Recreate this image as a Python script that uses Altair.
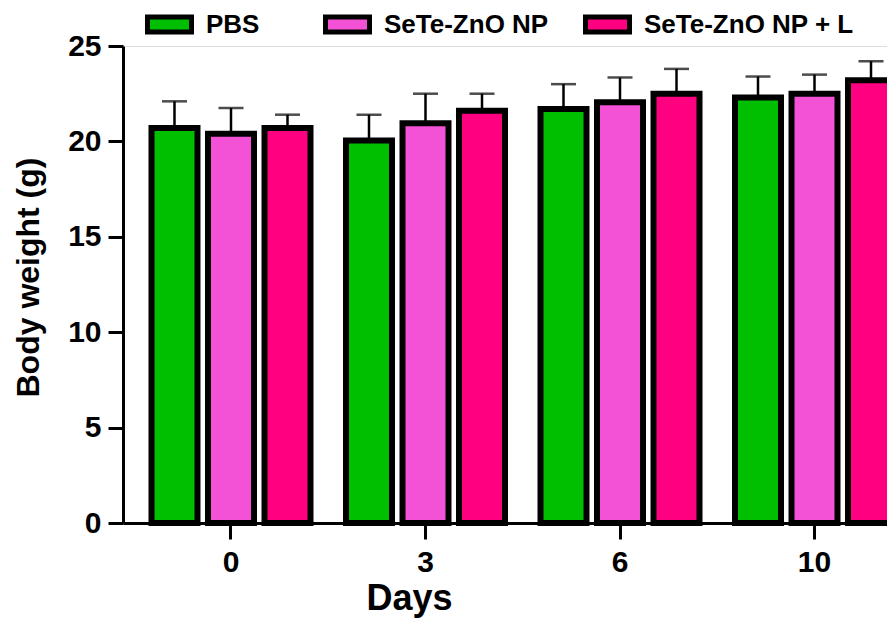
import altair as alt
import pandas as pd

days = ["0", "3", "6", "10"]
groups = ["PBS", "SeTe-ZnO NP", "SeTe-ZnO NP + L"]
colors = ["#00BF00", "#F452D6", "#FF0080"]

pbs_mean = [20.7, 20.05, 21.7, 22.3]
pbs_err = [1.4, 1.35, 1.3, 1.1]
np_mean = [20.4, 20.95, 22.05, 22.5]
np_err = [1.35, 1.55, 1.3, 1.0]
npl_mean = [20.7, 21.6, 22.5, 23.2]
npl_err = [0.7, 0.9, 1.3, 1.0]

rows = []
for g, means, errs in zip(groups, [pbs_mean, np_mean, npl_mean], [pbs_err, np_err, npl_err]):
    for d, m, e in zip(days, means, errs):
        rows.append({"day": d, "group": g, "mean": m, "top": m + e})
df = pd.DataFrame(rows)

FONT = "Liberation Sans"
PAD = "\u00a0" * 4 + "\u200b"

x_enc = alt.X(
    "day:N",
    sort=days,
    scale=alt.Scale(range=[0, 799.5], paddingInner=0.1825, paddingOuter=0.1465),
    axis=alt.Axis(
        title="Days",
        labelAngle=0,
        labelAlign="center",
        labelFont=FONT,
        labelFontWeight="bold",
        labelFontSize=30,
        labelColor="black",
        labelPadding=23,
        titleFont=FONT,
        titleFontWeight="bold",
        titleFontSize=36,
        titleColor="black",
        titlePadding=4,
        titleX=286,
        domainColor="black",
        domainWidth=3,
        tickColor="black",
        tickWidth=3,
        tickSize=16,
    ),
)
xo_enc = alt.XOffset(
    "group:N",
    sort=groups,
    scale=alt.Scale(paddingInner=0.186, paddingOuter=0),
)
y_axis = alt.Axis(
    title="Body weight (g)",
    values=[0, 5, 10, 15, 20, 25],
    grid=False,
    labelFont=FONT,
    labelFontWeight="bold",
    labelFontSize=30,
    labelColor="black",
    labelPadding=7,
    titleFont=FONT,
    titleFontWeight="bold",
    titleFontSize=32,
    titleColor="black",
    titlePadding=22,
    titleY=231,
    domainColor="black",
    domainWidth=3,
    tickColor="black",
    tickWidth=3,
    tickSize=15,
)

bars = alt.Chart(df).mark_bar(stroke="black", strokeWidth=6).encode(
    x=x_enc,
    xOffset=xo_enc,
    y=alt.Y("mean:Q", scale=alt.Scale(domain=[0, 25], nice=False), axis=y_axis),
    fill=alt.Fill(
        "group:N",
        sort=groups,
        scale=alt.Scale(domain=groups, range=colors),
        legend=alt.Legend(
            title=None,
            orient="none",
            legendX=22,
            legendY=-46,
            direction="horizontal",
            symbolType="M-1,-0.34H1V0.34H-1Z",
            symbolSize=1936,
            symbolStrokeColor="black",
            symbolStrokeWidth=5,
            symbolOpacity=1,
            labelFont=FONT,
            labelFontWeight="bold",
            labelFontSize=26,
            labelColor="black",
            labelOffset=12,
            labelLimit=500,
            columnPadding=26,
            labelExpr="datum.label == 'PBS' ? 'PBS" + PAD + "' : datum.label",
        ),
    ),
)

rules = alt.Chart(df).mark_rule(color="black", strokeWidth=2.5).encode(
    x=alt.X("day:N", sort=days),
    xOffset=alt.XOffset("group:N", sort=groups),
    y=alt.Y("mean:Q"),
    y2="top:Q",
)

caps = alt.Chart(df).mark_tick(color="black", thickness=2.5, size=25, orient="horizontal").encode(
    x=alt.X("day:N", sort=days),
    xOffset=alt.XOffset("group:N", sort=groups),
    y=alt.Y("top:Q"),
)

chart = alt.layer(rules, caps, bars).properties(
    width=764,
    height=477,
    autosize=alt.AutoSizeParams(type="none"),
    padding={"left": 115, "top": 38, "right": 0, "bottom": 100},
).configure_view(stroke=None).configure(background="white")

chart.save("out.html", embed_options={"renderer": "svg", "actions": False})
